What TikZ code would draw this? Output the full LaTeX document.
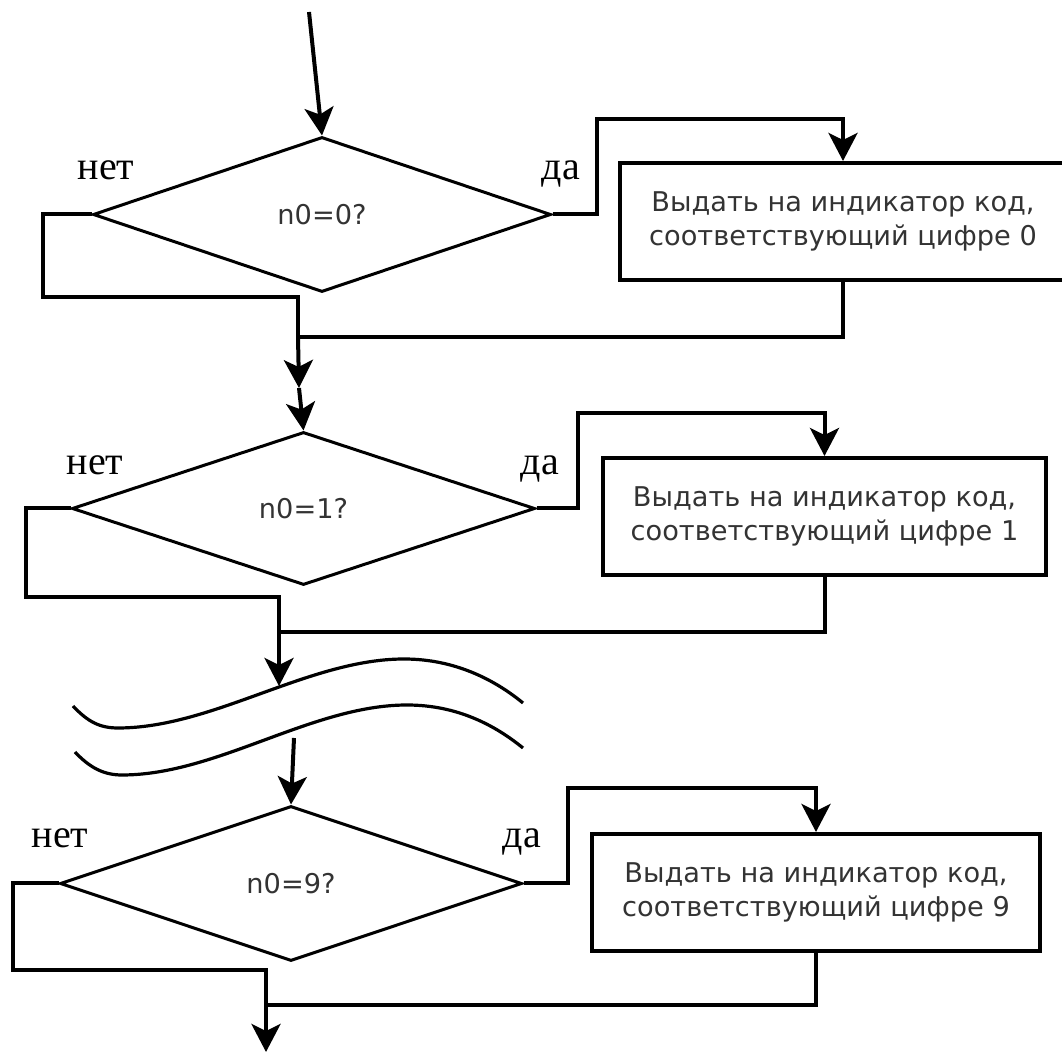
\documentclass[tikz,border=0pt]{standalone}
\usepackage{fontspec}
\setmainfont{Liberation Serif}
\newfontfamily\dejavu{DejaVu Sans}
\usetikzlibrary{shapes.geometric,arrows.meta}

\begin{document}
\begin{tikzpicture}[x=0.5pt,y=-0.5pt,
  conn/.style={line width=2pt},
  flow/.style={conn,-{Stealth[length=14pt,width=14.5pt,inset=3.5pt]}},
  cond/.style={diamond, draw, line width=1.5pt, inner sep=0pt,
    font=\dejavu\fontsize{13.6}{16}\selectfont, text=black!80},
  action/.style={rectangle, draw, line width=2pt, align=center, inner sep=0pt,
    font=\dejavu\fontsize{13.6}{17}\selectfont, text=black!80},
  branch/.style={font=\fontsize{20}{20}\selectfont, anchor=base, inner sep=0pt},
  wave/.style={line width=1.6pt}
]
\useasboundingbox (0,0) rectangle (1062,1052);

% ---------- test for digit 0 ----------
\coordinate (start) at (309,12);
\node[cond, minimum width=229pt, minimum height=77.5pt] (d1) at (322,214.5) {n0=0?};
\node[action, minimum width=223pt, minimum height=58.5pt] (b1) at (843,221.5)
  {Выдать на индикатор код,\\соответствующий цифре 0};
\node[branch] (no1) at (106,180) {нет};
\node[branch] (yes1) at (561,180) {да};

\coordinate (y1) at (597,119);
\coordinate (n1) at (43,297);
\coordinate (j1) at (298,337);
\coordinate (m1) at (299,388);

\draw[flow] (start) -- (d1.north);
\draw[flow] (d1.east) -| (y1) -| (b1.north);
\draw[conn] (d1.west) -| (n1) -| (j1);
\draw[conn] (b1.south) |- (j1);
\draw[flow] (j1) -- (m1);

% ---------- test for digit 1 ----------
\node[cond, minimum width=231.5pt, minimum height=76.5pt] (d2) at (303.5,508.5) {n0=1?};
\node[action, minimum width=221.5pt, minimum height=58.5pt] (b2) at (824.5,516.5)
  {Выдать на индикатор код,\\соответствующий цифре 1};
\node[branch] (no2) at (95,475) {нет};
\node[branch] (yes2) at (540,475) {да};

\coordinate (y2) at (578,413);
\coordinate (n2) at (26,597);
\coordinate (j2) at (279,632);
\coordinate (w1) at (279,686);

\draw[flow] (m1) -- (d2.north);
\draw[flow] (d2.east) -| (y2) -| (b2.north);
\draw[conn] (d2.west) -| (n2) -| (j2);
\draw[conn] (b2.south) |- (j2);
\draw[flow] (j2) -- (w1);

% ---------- break in the chain ----------
\draw[wave] (73,706) .. controls (88,722) and (100,728) .. (118,728)
  .. controls (213,728) and (309,659) .. (404,659)
  .. controls (455,659) and (495,680) .. (523,703);
\draw[wave] (75,752) .. controls (90,768) and (104,775) .. (122,775)
  .. controls (217,775) and (312,705) .. (407,705)
  .. controls (458,705) and (496,726) .. (523,748);

% ---------- test for digit 9 ----------
\coordinate (w2) at (294,738);
\node[cond, minimum width=231pt, minimum height=77.5pt] (d3) at (291,883.5) {n0=9?};
\node[action, minimum width=224pt, minimum height=58.5pt] (b3) at (816,892.5)
  {Выдать на индикатор код,\\соответствующий цифре 9};
\node[branch] (no3) at (60,848) {нет};
\node[branch] (yes3) at (522,848) {да};

\coordinate (y3) at (568,788);
\coordinate (n3) at (13,970);
\coordinate (j3) at (266,1005);
\coordinate (exit) at (266,1052);

\draw[flow] (w2) -- (d3.north);
\draw[flow] (d3.east) -| (y3) -| (b3.north);
\draw[conn] (d3.west) -| (n3) -| (j3);
\draw[conn] (b3.south) |- (j3);
\draw[flow] (j3) -- (exit);
\end{tikzpicture}
\end{document}
